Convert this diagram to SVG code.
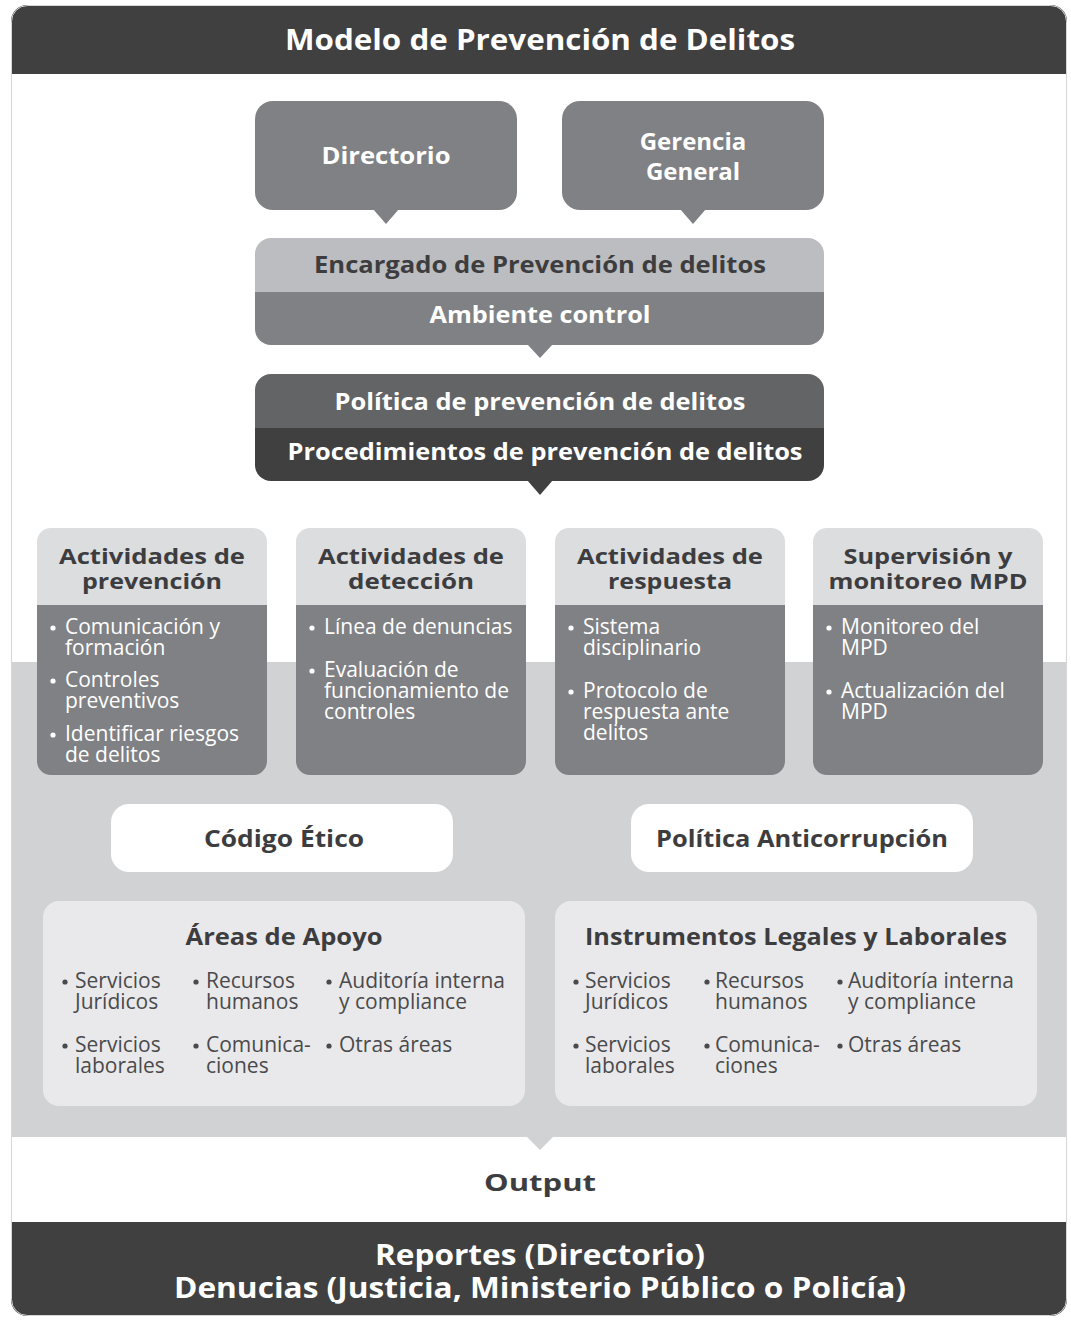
<svg xmlns="http://www.w3.org/2000/svg" width="1071" height="1320" viewBox="0 0 1071 1320">
<defs>
<clipPath id="frame"><rect x="11" y="5" width="1056" height="1311" rx="16"/></clipPath>
<clipPath id="cA"><rect x="0" y="0" width="230" height="247" rx="14"/></clipPath>
<clipPath id="cE"><rect x="255" y="238" width="569" height="107" rx="16"/></clipPath>
<clipPath id="cP"><rect x="255" y="374" width="569" height="107" rx="16"/></clipPath>
</defs>
<style>
text{font-family:"Open Sans","Noto Sans","Liberation Sans",sans-serif}
.b{font-weight:700}
.w{fill:#ffffff}
.d{fill:#3d3d3f}
.c{text-anchor:middle}
.it{font-size:21px;fill:#ffffff;font-weight:400}
.ar{font-size:21px;fill:#4a4a4c;font-weight:400}
.hd{font-size:24px;font-weight:700;fill:#3d3d3f;text-anchor:middle}
.hs{font-size:22px;font-weight:700;fill:#3d3d3f;text-anchor:middle}
.mid{fill:#808184}
</style>

<g id="background" clip-path="url(#frame)">
<rect x="11" y="5" width="1056" height="1311" fill="#ffffff"/>
<rect x="11" y="5" width="1056" height="69" fill="#404041"/>
<rect x="11" y="662" width="1056" height="475" fill="#d1d2d4"/>
<polygon points="527,1137 553,1137 540,1150" fill="#d1d2d4"/>
<rect x="11" y="1222" width="1056" height="94" fill="#404041"/>
</g>
<rect x="11.5" y="5.5" width="1055" height="1310" rx="16" fill="none" stroke="#d6d6d8" stroke-width="1"/>

<g id="title"><text class="b w c" x="540" y="50" font-size="28" textLength="510" lengthAdjust="spacingAndGlyphs">Modelo de Prevención de Delitos</text></g>

<g id="directorio">
<rect x="255" y="101" width="262" height="109" rx="18" class="mid"/>
<polygon points="373,209 399,209 386,224" class="mid"/>
<text class="b w c" x="386" y="164" font-size="24" textLength="129" lengthAdjust="spacingAndGlyphs">Directorio</text>
</g>
<g id="gerencia">
<rect x="562" y="101" width="262" height="109" rx="18" class="mid"/>
<polygon points="680,209 706,209 693,224" class="mid"/>
<text class="b w c" x="693" y="150" font-size="24">Gerencia</text>
<text class="b w c" x="693" y="180" font-size="24">General</text>
</g>

<g id="encargado">
<g clip-path="url(#cE)">
<rect x="255" y="238" width="569" height="54" fill="#bcbdc0"/>
<rect x="255" y="292" width="569" height="53" fill="#808184"/>
</g>
<polygon points="527,344 553,344 540,358" fill="#808184"/>
<text class="b d c" x="540" y="273" font-size="24" textLength="452" lengthAdjust="spacingAndGlyphs">Encargado de Prevención de delitos</text>
<text class="b w c" x="540" y="323" font-size="24" textLength="221" lengthAdjust="spacingAndGlyphs">Ambiente control</text>
</g>

<g id="politica">
<g clip-path="url(#cP)">
<rect x="255" y="374" width="569" height="54" fill="#636466"/>
<rect x="255" y="428" width="569" height="53" fill="#404041"/>
</g>
<polygon points="527,480 553,480 540,495" fill="#404041"/>
<text class="b w c" x="540" y="410" font-size="24" textLength="411" lengthAdjust="spacingAndGlyphs">Política de prevención de delitos</text>
<text class="b w c" x="545" y="460" font-size="24" textLength="515" lengthAdjust="spacingAndGlyphs">Procedimientos de prevención de delitos</text>
</g>

<g id="act-prevencion" transform="translate(37,528)">
<g clip-path="url(#cA)">
<rect x="0" y="0" width="230" height="77" fill="#dcdddf"/>
<rect x="0" y="77" width="230" height="170" fill="#808184"/>
</g>
<text class="hs" x="115" y="36" textLength="186" lengthAdjust="spacingAndGlyphs">Actividades de</text>
<text class="hs" x="115" y="61" textLength="140" lengthAdjust="spacingAndGlyphs">prevención</text>
<circle cx="16" cy="100" r="2.6" fill="#fff"/>
<text class="it" x="28" y="106">Comunicación y</text>
<text class="it" x="28" y="127">formación</text>
<circle cx="16" cy="153" r="2.6" fill="#fff"/>
<text class="it" x="28" y="159">Controles</text>
<text class="it" x="28" y="180">preventivos</text>
<circle cx="16" cy="207" r="2.6" fill="#fff"/>
<text class="it" x="28" y="213">Identificar riesgos</text>
<text class="it" x="28" y="234">de delitos</text>
</g>

<g id="act-deteccion" transform="translate(296,528)">
<g clip-path="url(#cA)">
<rect x="0" y="0" width="230" height="77" fill="#dcdddf"/>
<rect x="0" y="77" width="230" height="170" fill="#808184"/>
</g>
<text class="hs" x="115" y="36" textLength="186" lengthAdjust="spacingAndGlyphs">Actividades de</text>
<text class="hs" x="115" y="61" textLength="126" lengthAdjust="spacingAndGlyphs">detección</text>
<circle cx="16" cy="100" r="2.6" fill="#fff"/>
<text class="it" x="28" y="106">Línea de denuncias</text>
<circle cx="16" cy="143" r="2.6" fill="#fff"/>
<text class="it" x="28" y="149">Evaluación de</text>
<text class="it" x="28" y="170">funcionamiento de</text>
<text class="it" x="28" y="191">controles</text>
</g>

<g id="act-respuesta" transform="translate(555,528)">
<g clip-path="url(#cA)">
<rect x="0" y="0" width="230" height="77" fill="#dcdddf"/>
<rect x="0" y="77" width="230" height="170" fill="#808184"/>
</g>
<text class="hs" x="115" y="36" textLength="186" lengthAdjust="spacingAndGlyphs">Actividades de</text>
<text class="hs" x="115" y="61" textLength="124" lengthAdjust="spacingAndGlyphs">respuesta</text>
<circle cx="16" cy="100" r="2.6" fill="#fff"/>
<text class="it" x="28" y="106">Sistema</text>
<text class="it" x="28" y="127">disciplinario</text>
<circle cx="16" cy="164" r="2.6" fill="#fff"/>
<text class="it" x="28" y="170">Protocolo de</text>
<text class="it" x="28" y="191">respuesta ante</text>
<text class="it" x="28" y="212">delitos</text>
</g>

<g id="supervision" transform="translate(813,528)">
<g clip-path="url(#cA)">
<rect x="0" y="0" width="230" height="77" fill="#dcdddf"/>
<rect x="0" y="77" width="230" height="170" fill="#808184"/>
</g>
<text class="hs" x="115" y="36" textLength="169" lengthAdjust="spacingAndGlyphs">Supervisión y</text>
<text class="hs" x="115" y="61" textLength="199" lengthAdjust="spacingAndGlyphs">monitoreo MPD</text>
<circle cx="16" cy="100" r="2.6" fill="#fff"/>
<text class="it" x="28" y="106">Monitoreo del</text>
<text class="it" x="28" y="127">MPD</text>
<circle cx="16" cy="164" r="2.6" fill="#fff"/>
<text class="it" x="28" y="170">Actualización del</text>
<text class="it" x="28" y="191">MPD</text>
</g>

<g id="codigo-etico">
<rect x="111" y="804" width="342" height="68" rx="18" fill="#ffffff"/>
<text class="hd" x="284" y="847" textLength="160" lengthAdjust="spacingAndGlyphs">Código Ético</text>
</g>
<g id="politica-anticorrupcion">
<rect x="631" y="804" width="342" height="68" rx="18" fill="#ffffff"/>
<text class="hd" x="802" y="847" textLength="292" lengthAdjust="spacingAndGlyphs">Política Anticorrupción</text>
</g>

<g id="areas-apoyo" transform="translate(43,901)">
<rect x="0" y="0" width="482" height="205" rx="16" fill="#e9e9eb"/>
<text class="hd" x="241" y="44" textLength="197" lengthAdjust="spacingAndGlyphs">Áreas de Apoyo</text>
<circle cx="22" cy="81" r="2.6" fill="#4a4a4c"/>
<text class="ar" x="32" y="87">Servicios</text>
<text class="ar" x="32" y="108">Jurídicos</text>
<circle cx="153" cy="81" r="2.6" fill="#4a4a4c"/>
<text class="ar" x="163" y="87">Recursos</text>
<text class="ar" x="163" y="108">humanos</text>
<circle cx="286" cy="81" r="2.6" fill="#4a4a4c"/>
<text class="ar" x="296" y="87">Auditoría interna</text>
<text class="ar" x="296" y="108">y compliance</text>
<circle cx="22" cy="145" r="2.6" fill="#4a4a4c"/>
<text class="ar" x="32" y="151">Servicios</text>
<text class="ar" x="32" y="172">laborales</text>
<circle cx="153" cy="145" r="2.6" fill="#4a4a4c"/>
<text class="ar" x="163" y="151">Comunica-</text>
<text class="ar" x="163" y="172">ciones</text>
<circle cx="286" cy="145" r="2.6" fill="#4a4a4c"/>
<text class="ar" x="296" y="151">Otras áreas</text>
</g>

<g id="instrumentos" transform="translate(555,901)">
<rect x="0" y="0" width="482" height="205" rx="16" fill="#e9e9eb"/>
<text class="hd" x="241" y="44" textLength="422" lengthAdjust="spacingAndGlyphs">Instrumentos Legales y Laborales</text>
<circle cx="21" cy="81" r="2.6" fill="#4a4a4c"/>
<text class="ar" x="30" y="87">Servicios</text>
<text class="ar" x="30" y="108">Jurídicos</text>
<circle cx="152" cy="81" r="2.6" fill="#4a4a4c"/>
<text class="ar" x="160" y="87">Recursos</text>
<text class="ar" x="160" y="108">humanos</text>
<circle cx="285" cy="81" r="2.6" fill="#4a4a4c"/>
<text class="ar" x="293" y="87">Auditoría interna</text>
<text class="ar" x="293" y="108">y compliance</text>
<circle cx="21" cy="145" r="2.6" fill="#4a4a4c"/>
<text class="ar" x="30" y="151">Servicios</text>
<text class="ar" x="30" y="172">laborales</text>
<circle cx="152" cy="145" r="2.6" fill="#4a4a4c"/>
<text class="ar" x="160" y="151">Comunica-</text>
<text class="ar" x="160" y="172">ciones</text>
<circle cx="285" cy="145" r="2.6" fill="#4a4a4c"/>
<text class="ar" x="293" y="151">Otras áreas</text>
</g>

<g id="output"><text class="hd" x="540" y="1191" font-size="28" textLength="112" lengthAdjust="spacingAndGlyphs">Output</text></g>

<g id="reportes">
<text class="b w c" x="540" y="1265" font-size="29" textLength="330" lengthAdjust="spacingAndGlyphs">Reportes (Directorio)</text>
<text class="b w c" x="540" y="1298" font-size="29" textLength="732" lengthAdjust="spacingAndGlyphs">Denucias (Justicia, Ministerio Público o Policía)</text>
</g>

<g id="connectors"></g>
</svg>
